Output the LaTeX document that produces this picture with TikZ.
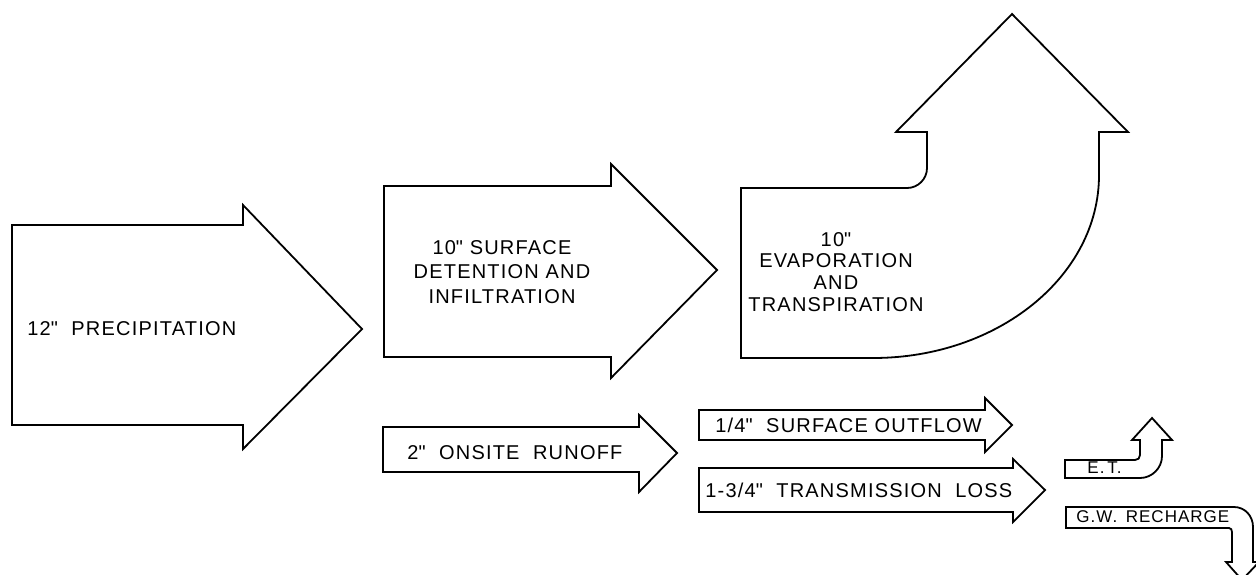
\documentclass[tikz,border=0pt]{standalone}
\usepackage{fontspec}
\newfontfamily\lettering[LetterSpace=6]{Liberation Sans}
\newcommand{\inch}{\textquotedbl}

\begin{document}
\begin{tikzpicture}[x=0.5pt, y=-0.5pt, flow/.style={draw, line width=0.9pt, line join=miter}, lbl/.style={font=\lettering\fontsize{10}{12.25}\selectfont, inner sep=0pt}]
	\useasboundingbox (0,0) rectangle (1256,574);
	\clip (0,0) rectangle (1256,574);
	% straight arrows: left/shaft top/shaft bottom/notch/head top/head bottom/tip x/tip y
	\foreach \xa/\ya/\yb/\xn/\yc/\yd/\xt/\yt in {12/225/425/243/205/449/362/329, 384/186/357/611/164/378/717/270, 383/427/472/639/415/492/677/453, 699/410/440/985/398/452/1012/425, 699/468/512/1013/459/522/1045/490}
		{\draw[flow] (\xa,\ya) -- (\xn,\ya) -- (\xn,\yc) -- (\xt,\yt) -- (\xn,\yd) -- (\xn,\yb) -- (\xa,\yb) -- cycle;}
	% bent upwards
	\draw[flow] (741,188) -- (907,188) .. controls (918,188) and (927,179) .. (927,168) -- (927,132) -- (896,132) -- (1012,14) -- (1128,132) -- (1099,132) -- (1099,175) .. controls (1099,276) and (998,358) .. (873,358) -- (741,358) -- cycle;
	\draw[flow] (1065,460) -- (1135,460) .. controls (1138,460) and (1140,458) .. (1140,455) -- (1140,440) -- (1132,440) -- (1152,418) -- (1172,440) -- (1162,440) -- (1162,456) .. controls (1162,468) and (1152,478) .. (1140,478) -- (1065,478) -- cycle;
	% bent downwards
	\draw[flow] (1066,507) -- (1234,507) .. controls (1245,507) and (1253,516) .. (1253,527) -- (1253,562) -- (1259,562) -- (1242,580) -- (1226,562) -- (1232,562) -- (1232,532) .. controls (1232,530) and (1231,528) .. (1229,528) -- (1066,528) -- cycle;
	% labels
	\node[lbl, anchor=west] (precip) at (27,329) {12\inch\ \ PRECIPITATION};
	\node[lbl, align=center] (detent) at (502,272) {10\inch\ SURFACE\\DETENTION AND\\INFILTRATION};
	\node[lbl, align=center, font=\lettering\fontsize{10}{10.9}\selectfont] (evap) at (836,272) {10\inch\\EVAPORATION\\AND\\TRANSPIRATION};
	\node[lbl, anchor=west] (runoff) at (407,453) {2\inch\ \ ONSITE\ \ RUNOFF};
	\node[lbl, anchor=west] (outflow) at (715,425) {1/4\inch\ \ SURFACE\ OUTFLOW};
	\node[lbl, anchor=west] (tloss) at (705,490) {1-3/4\inch\ \ TRANSMISSION\ \ LOSS};
	\node[lbl, anchor=west, font=\lettering\fontsize{8.5}{10}\selectfont] (et) at (1087,468) {E.\,T.};
	\node[lbl, anchor=west, font=\lettering\fontsize{8.5}{10}\selectfont] (gw) at (1076,517) {G.W.\ \,RECHARGE};
\end{tikzpicture}
\end{document}
